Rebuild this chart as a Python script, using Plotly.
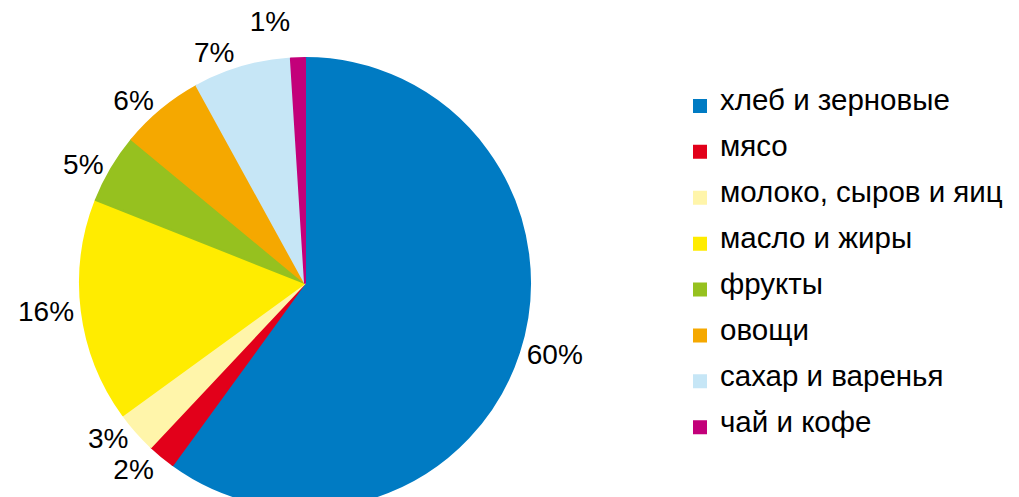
import plotly.graph_objects as go

categories = ["хлеб и зерновые", "мясо", "молоко, сыров и яиц", "масло и жиры",
              "фрукты", "овощи", "сахар и варенья", "чай и кофе"]
values = [60, 2, 3, 16, 5, 6, 7, 1]
colors = ["#007BC3", "#E2001A", "#FFF5AA", "#FFEC00",
          "#96C11F", "#F5A800", "#C6E6F6", "#C3007A"]

W, H = 1019, 520
FONT = "Liberation Sans, Arial, sans-serif"

# legend entries: middle line carries the visible text (larger font), padding lines give row spacing
legend_labels = [" <br><span style='font-size:29.5px'>" + c + "</span><br> " for c in categories]

fig = go.Figure(go.Pie(
    labels=legend_labels,
    values=values,
    sort=False,
    direction="clockwise",
    rotation=0,
    marker=dict(colors=colors, line=dict(color=colors, width=2)),
    texttemplate="%{value}%",
    textposition="outside",
    textfont=dict(family=FONT, size=28, color="#000000"),
    automargin=False,
    hoverinfo="skip",
    domain=dict(x=[80 / W, 530 / W], y=[(H - 508) / H, (H - 58) / H]),
))

fig.update_layout(
    width=W, height=H,
    margin=dict(l=0, r=0, t=0, b=0, autoexpand=False),
    paper_bgcolor="white",
    plot_bgcolor="white",
    font=dict(family=FONT, color="#000000"),
    showlegend=True,
    legend=dict(
        x=680 / W, xanchor="left",
        y=(H - 78) / H, yanchor="top",
        font=dict(family=FONT, size=11, color="#000000"),
        bgcolor="rgba(0,0,0,0)",
        borderwidth=0,
    ),
)

fig.write_html(
    "out.html",
    config={"displayModeBar": False},
    post_script=(
        "document.body.style.margin='0';document.body.style.overflow='hidden';"
        "var s=document.createElement('style');s.textContent='.textline{display:none}';"
        "document.head.appendChild(s);"
    ),
)
